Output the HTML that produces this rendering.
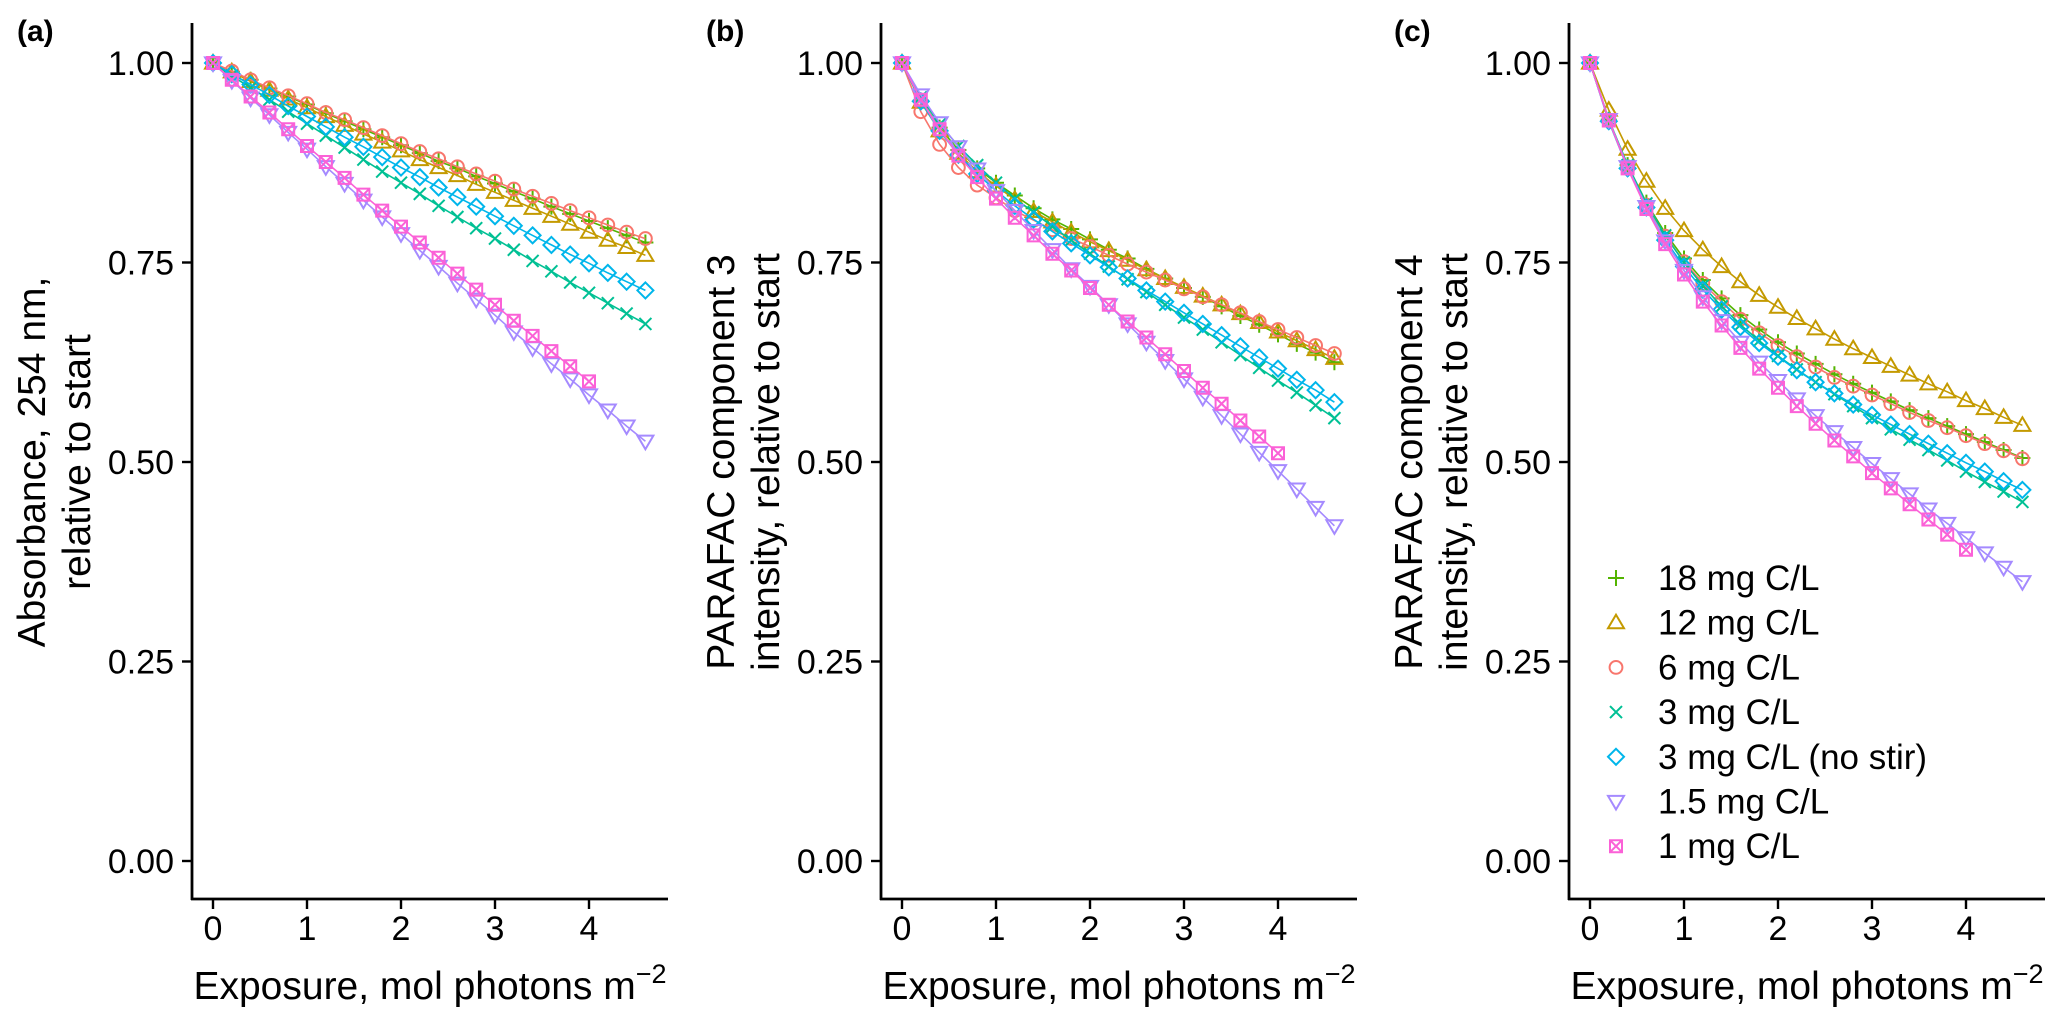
<!DOCTYPE html>
<html><head><meta charset="utf-8"><style>
html,body{margin:0;padding:0;background:#fff;}
svg{display:block;font-family:"Liberation Sans",Arial,sans-serif;}
</style></head><body>
<svg id="chart" width="2067" height="1028" viewBox="0 0 2067 1028" xmlns="http://www.w3.org/2000/svg"></svg>
<script>
const xsFull = [0,0.2,0.4,0.6,0.8,1,1.2,1.4,1.6,1.8,2,2.2,2.4,2.6,2.8,3,3.2,3.4,3.6,3.8,4,4.2,4.4,4.6];
const xsShort = [0,0.2,0.4,0.6,0.8,1,1.2,1.4,1.6,1.8,2,2.2,2.4,2.6,2.8,3,3.2,3.4,3.6,3.8,4];
const seriesNames = ["18 mg C/L","12 mg C/L","6 mg C/L","3 mg C/L","3 mg C/L (no stir)","1.5 mg C/L","1 mg C/L"];
const xTicks = [0,1,2,3,4];
const yTicks = [0,0.25,0.5,0.75,1];
const yTickLabels = ["0.00","0.25","0.50","0.75","1.00"];
const panelLetters = ["(a)","(b)","(c)"];

// Panel (a) absorbance 254 nm
const a18 = [1,.989,.979,.968,.958,.948,.937,.927,.917,.907,.897,.887,.877,.868,.858,.849,.839,.830,.820,.811,.802,.793,.784,.775];
const a12 = [1,.989,.977,.966,.955,.944,.933,.922,.911,.901,.890,.879,.869,.859,.848,.838,.828,.818,.808,.798,.788,.778,.769,.759];
const a6  = [1,.990,.979,.969,.959,.949,.938,.929,.919,.909,.899,.889,.880,.870,.861,.852,.842,.833,.824,.815,.806,.797,.788,.780];
const a3  = [1,.984,.969,.954,.939,.924,.909,.894,.879,.864,.850,.836,.821,.807,.793,.780,.766,.752,.739,.725,.712,.699,.686,.673];
const a3ns= [1,.986,.973,.960,.946,.933,.920,.907,.895,.882,.869,.857,.844,.832,.820,.808,.796,.784,.772,.760,.749,.737,.726,.715];
const a15 = [1,.978,.956,.935,.913,.892,.870,.849,.828,.807,.786,.765,.745,.724,.704,.684,.663,.643,.623,.604,.584,.565,.545,.526];
const a1  = [1,.979,.958,.938,.917,.896,.876,.856,.835,.815,.795,.775,.756,.736,.716,.697,.677,.658,.639,.620,.601];
// Panel (b) PARAFAC component 3
const b18 = [1,.953,.919,.891,.868,.850,.834,.818,.804,.792,.779,.766,.755,.742,.730,.718,.707,.695,.683,.672,.660,.648,.637,.625];
const b12 = [1,.951,.915,.887,.864,.846,.829,.814,.801,.788,.776,.765,.753,.741,.730,.719,.708,.697,.686,.675,.663,.652,.641,.630];
const b6  = [1,.939,.898,.869,.847,.831,.815,.803,.791,.780,.770,.759,.748,.738,.728,.717,.707,.697,.687,.676,.666,.656,.646,.636];
const b3  = [1,.957,.923,.896,.872,.850,.830,.813,.795,.778,.761,.745,.729,.713,.697,.681,.666,.650,.634,.618,.602,.587,.571,.555];
const b3ns= [1,.952,.915,.885,.861,.840,.821,.804,.789,.774,.759,.744,.730,.715,.701,.687,.673,.659,.645,.631,.617,.603,.590,.575];
const b15 = [1,.960,.925,.895,.867,.840,.815,.790,.766,.742,.720,.697,.673,.650,.627,.604,.581,.558,.535,.512,.489,.466,.443,.420];
const b1  = [1,.954,.917,.884,.857,.830,.806,.784,.761,.740,.718,.697,.676,.656,.635,.614,.593,.573,.552,.532,.511];
// Panel (c) PARAFAC component 4
const c18 = [1,.929,.872,.825,.787,.755,.728,.705,.684,.666,.650,.636,.623,.610,.598,.587,.576,.565,.555,.545,.535,.525,.515,.505];
const c12 = [1,.941,.892,.852,.818,.790,.766,.745,.726,.709,.694,.680,.667,.654,.642,.631,.620,.609,.598,.588,.577,.567,.556,.546];
const c6  = [1,.928,.870,.822,.783,.751,.724,.701,.679,.662,.646,.632,.619,.606,.595,.584,.573,.562,.552,.543,.533,.523,.514,.504];
const c3  = [1,.929,.872,.824,.784,.750,.721,.695,.672,.652,.633,.616,.600,.585,.570,.555,.541,.528,.515,.502,.488,.475,.463,.450];
const c3ns= [1,.927,.868,.819,.778,.745,.716,.691,.669,.649,.632,.615,.600,.586,.572,.559,.547,.535,.523,.511,.499,.488,.476,.465];
const c15 = [1,.929,.870,.820,.777,.740,.707,.677,.650,.625,.602,.579,.558,.538,.518,.498,.479,.460,.441,.423,.405,.386,.368,.350];
const c1  = [1,.928,.868,.817,.773,.735,.701,.671,.643,.617,.593,.570,.548,.527,.507,.486,.467,.447,.428,.409,.390];

const colors = ["#53B400","#C49A00","#F8766D","#00C094","#00B6EB","#A58AFF","#FB61D7"];
const shapes = ["plus","tri","circle","cross","diamond","tridown","boxx"];
const panels = [
  {data:[a18,a12,a6,a3,a3ns,a15,a1], title:["Absorbance, 254 nm,","relative to start"], axisX:192},
  {data:[b18,b12,b6,b3,b3ns,b15,b1], title:["PARAFAC component 3","intensity, relative to start"], axisX:881},
  {data:[c18,c12,c6,c3,c3ns,c15,c1], title:["PARAFAC component 4","intensity, relative to start"], axisX:1569}
];

const NS = "http://www.w3.org/2000/svg";
const svg = document.getElementById("chart");
function mk(tag, attrs, parent){
  const e = document.createElementNS(NS, tag);
  for (const k in attrs) e.setAttribute(k, attrs[k]);
  (parent||svg).appendChild(e);
  return e;
}
const Y0 = 861, YPER = 798, XPER = 94, XAXIS_Y = 899, YTOP = 23;
function yScale(v){ return Y0 - v*YPER; }

function marker(g, shape, cx, cy, col){
  const s = 8, sw = 2;
  let e;
  if (shape==="plus"){
    e = mk("path",{d:`M${cx-s} ${cy}H${cx+s}M${cx} ${cy-s}V${cy+s}`,stroke:col,"stroke-width":sw,fill:"none"},g);
  } else if (shape==="cross"){
    const t=s*0.75;
    e = mk("path",{d:`M${cx-t} ${cy-t}L${cx+t} ${cy+t}M${cx-t} ${cy+t}L${cx+t} ${cy-t}`,stroke:col,"stroke-width":sw,fill:"none"},g);
  } else if (shape==="tri"){
    e = mk("path",{d:`M${cx} ${cy-s}L${cx+s} ${cy+s*0.7}L${cx-s} ${cy+s*0.7}Z`,stroke:col,"stroke-width":sw,fill:"none"},g);
  } else if (shape==="tridown"){
    e = mk("path",{d:`M${cx} ${cy+s}L${cx+s} ${cy-s*0.7}L${cx-s} ${cy-s*0.7}Z`,stroke:col,"stroke-width":sw,fill:"none"},g);
  } else if (shape==="circle"){
    e = mk("circle",{cx:cx,cy:cy,r:s*0.8,stroke:col,"stroke-width":sw,fill:"none"},g);
  } else if (shape==="diamond"){
    e = mk("path",{d:`M${cx} ${cy-s}L${cx+s} ${cy}L${cx} ${cy+s}L${cx-s} ${cy}Z`,stroke:col,"stroke-width":sw,fill:"none"},g);
  } else {
    const t=s*0.75;
    e = mk("path",{d:`M${cx-t} ${cy-t}H${cx+t}V${cy+t}H${cx-t}ZM${cx-t} ${cy-t}L${cx+t} ${cy+t}M${cx-t} ${cy+t}L${cx+t} ${cy-t}`,stroke:col,"stroke-width":sw,fill:"none"},g);
  }
  return e;
}

panels.forEach((p, pi) => {
  const ax = p.axisX, x0 = ax + 21;
  const xScale = v => x0 + v*XPER;
  const g = mk("g",{});
  
  

  const lab = mk("text",{x:ax-175,y:41,"font-size":30,"font-weight":"bold",fill:"#000"},g);
  lab.textContent = panelLetters[pi];
  
  

  p.data.forEach((vals, si) => {
    const xs = vals.length === xsFull.length ? xsFull : xsShort;
    const sg = mk("g",{},g);
    
    
    const pts = vals.map((v,i)=>xScale(xs[i]).toFixed(1)+","+yScale(v).toFixed(1)).join(" ");
    const line = mk("polyline",{points:pts,fill:"none",stroke:colors[si],"stroke-width":1.6},sg);
    
    
    vals.forEach((v,i)=>{
      const m = marker(sg, shapes[si], xScale(xs[i]), yScale(v), colors[si]);
      
      
    });
  });

  const yAxis = mk("line",{x1:ax,y1:YTOP,x2:ax,y2:XAXIS_Y+1,stroke:"#000","stroke-width":2.8},g);
  
  
  const xAxis = mk("line",{x1:ax-1,y1:XAXIS_Y,x2:ax+476,y2:XAXIS_Y,stroke:"#000","stroke-width":2.8},g);
  
  

  yTicks.forEach((t,i)=>{
    const y = yScale(t);
    const tk = mk("line",{x1:ax-10,y1:y,x2:ax,y2:y,stroke:"#000","stroke-width":2.4},g);
    
    
    const tl = mk("text",{x:ax-18,y:y+12,"font-size":34,"text-anchor":"end",fill:"#000"},g);
    tl.textContent = yTickLabels[i];
    
    
  });
  xTicks.forEach(t=>{
    const x = xScale(t);
    const tk = mk("line",{x1:x,y1:XAXIS_Y,x2:x,y2:XAXIS_Y+10,stroke:"#000","stroke-width":2.4},g);
    
    
    const tl = mk("text",{x:x,y:940,"font-size":34,"text-anchor":"middle",fill:"#000"},g);
    tl.textContent = String(t);
    
    
  });

  const xt = mk("text",{x:ax+238,y:999,"font-size":39,"text-anchor":"middle",fill:"#000"},g);
  xt.textContent = "Exposure, mol photons m";
  const sup = mk("tspan",{dy:-16,"font-size":27},xt);
  sup.textContent = "\u22122";
  
  

  const yt = mk("text",{transform:`translate(${ax-147},462) rotate(-90)`,"font-size":39,"text-anchor":"middle",fill:"#000"},g);
  const l1 = mk("tspan",{x:0,y:0},yt); l1.textContent = p.title[0];
  const l2 = mk("tspan",{x:0,y:45},yt); l2.textContent = p.title[1];
  
  
});

const lg = mk("g",{});


seriesNames.forEach((n,i)=>{
  const y = 578 + i*44.7;
  const eg = mk("g",{},lg);
  
  
  marker(eg, shapes[i], 1616, y, colors[i]);
  const t = mk("text",{x:1658,y:y+12,"font-size":35,fill:"#000"},eg);
  t.textContent = n;
});
</script>
</body></html>
